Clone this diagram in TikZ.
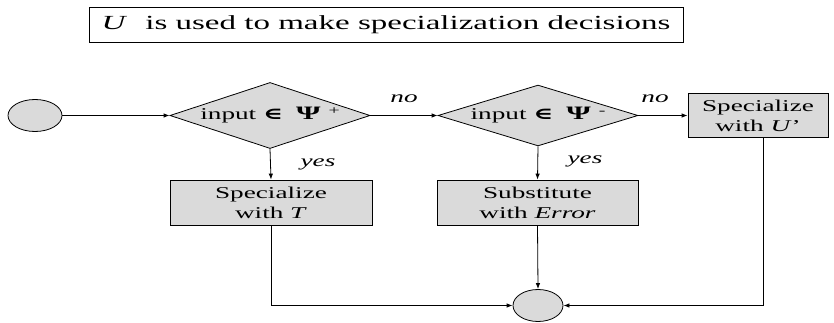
\documentclass[tikz,border=0pt]{standalone}
\usepackage{fontspec}
\setmainfont{Liberation Serif}[FakeStretch=1.65]
\newfontfamily\symfont{DejaVu Serif}[FakeStretch=1.65]
\usetikzlibrary{arrows.meta,shapes.geometric}
\definecolor{boxgray}{RGB}{218,218,218}
\newcommand{\elem}{{\symfont\bfseries ∈}}
\newcommand{\sset}{{\fontsize{19}{20}\selectfont\bfseries Ψ}}
\newcommand{\sgn}[1]{\hspace{8pt}\raisebox{0.7ex}{\fontsize{12}{14}\selectfont #1}}
\tikzset{
  wire/.style={draw, line width=0.8pt},
  flow/.style={wire, -{Latex[length=6pt,width=4.5pt]}},
  txt/.style={font=\fontsize{16.5}{20}\selectfont},
  procbox/.style={txt, draw, fill=boxgray, line width=0.8pt, inner sep=0pt, align=center},
  termbox/.style={ellipse, draw, fill=boxgray, line width=0.8pt, inner sep=0pt},
  testbox/.style={txt, diamond, draw, fill=boxgray, line width=0.8pt, shape aspect=3, inner sep=0pt, minimum width=200pt},
  lbl/.style={font=\fontsize{16.5}{20}\selectfont\itshape},
  headbox/.style={draw, line width=0.8pt, inner sep=0pt, font=\fontsize{20}{24}\selectfont}
}
\begin{document}
\begin{tikzpicture}[x=1pt,y=-1pt]
\useasboundingbox (0,0) rectangle (834,323);

% caption box
\node[headbox, minimum width=594pt, minimum height=35pt] (head) at (386,24.5)
  {\textit{U}\hspace{10pt} is used to make specialization decisions};

% flow nodes
\node[termbox, minimum width=54pt, minimum height=32pt] (start) at (35,115.5) {};
\node[testbox, minimum height=66pt] (d1) at (270,115.5)
  {input \elem\hspace{6pt} \sset\sgn{+}};
\node[testbox, minimum height=54pt] (d2) at (538,115.5)
  {input \elem\hspace{6pt} \sset\sgn{-}};
\node[procbox, minimum width=140pt, minimum height=44pt] (u) at (758,115.5)
  {Specialize\\with \textit{U}’};
\node[procbox, minimum width=202pt, minimum height=45pt] (t) at (271,202.5)
  {Specialize\\with \textit{T}};
\node[procbox, minimum width=201pt, minimum height=45pt] (e) at (537.5,202.5)
  {Substitute\\with \textit{Error}};
\node[termbox, minimum width=50pt, minimum height=32pt] (end) at (538,305.5) {};

% branch labels
\node[lbl] (no1) at (404,99) {no};
\node[lbl] (no2) at (655,99) {no};
\node[lbl] (yes1) at (318,164) {yes};
\node[lbl] (yes2) at (585,161) {yes};

% connectors
\draw[flow] (start.east) -- (d1.west);
\draw[flow] (d1.east) -- (d2.west);
\draw[flow] (d2.east) -- (u.west);
\draw[flow] (d1.south) -- (t.north);
\draw[flow] (d2.south) -- (e.north);
\draw[flow] (t.south) |- (end.west);
\draw[flow] (e.south) -- (end.north);
\draw[flow] ([xshift=5pt]u.south) |- (end.east);
\end{tikzpicture}
\end{document}
